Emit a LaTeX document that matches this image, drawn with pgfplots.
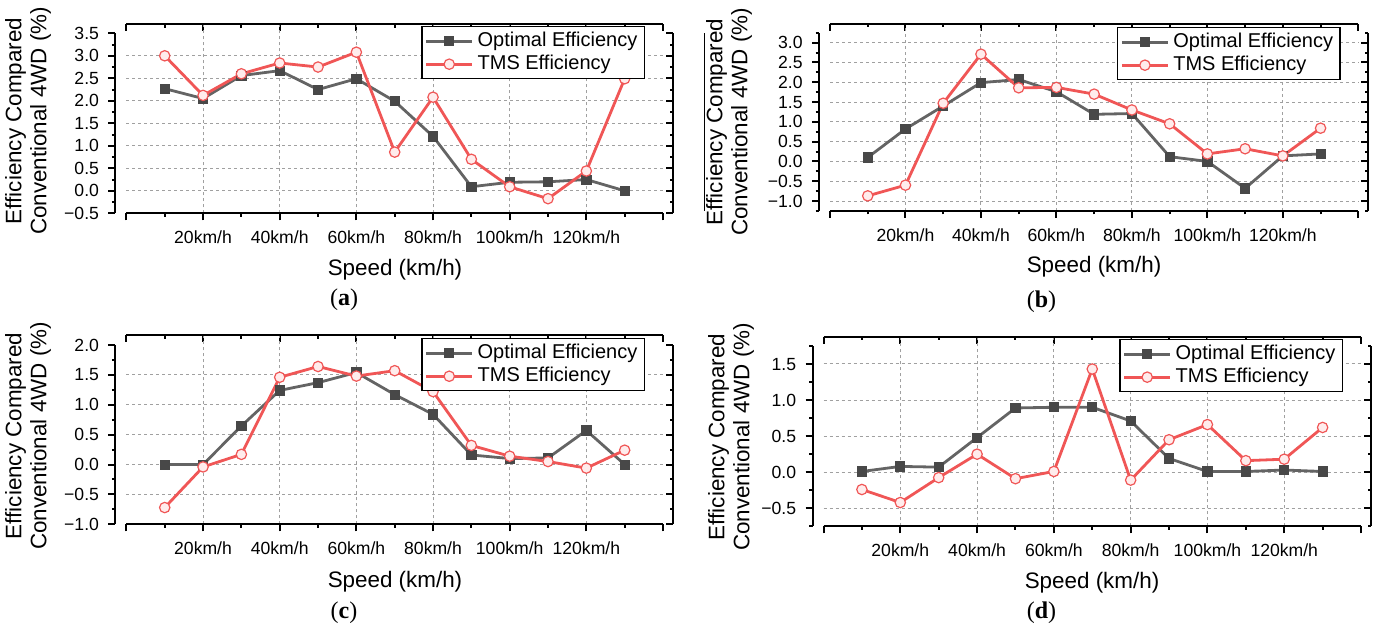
\documentclass[border=0pt]{standalone}
\usepackage{fontspec}
\setmainfont{Liberation Sans}
\newfontfamily\capfont{Liberation Serif}
\usepackage{pgfplots}
\pgfplotsset{compat=1.18}
\definecolor{optgray}{RGB}{100,100,100}
\definecolor{optmark}{RGB}{72,72,72}
\definecolor{tmsred}{RGB}{240,86,86}
\definecolor{tmsfill}{RGB}{255,236,236}
\definecolor{gridgray}{RGB}{160,160,160}
\pgfplotsset{
  common/.style={scale only axis, clip=false, anchor=south west,
    major tick length=3.5pt, minor tick length=1.75pt,
    tick style={black, line width=1pt},
    axis line style={black, line width=1pt}},
  Aax/.style={common, xmin=0, xmax=140, separate axis lines,
    y axis line style={draw=none},
    major tick length=0pt, minor tick length=0pt,
    xtick={20,40,...,120}, xticklabels={}, yticklabels={},
    xmajorgrids, ymajorgrids,
    major grid style={gridgray, line width=0.5pt, dash pattern=on 1.5pt off 1.5pt},
    legend style={anchor=north east, fill=white, draw=black, line width=0.7pt,
      font=\fontsize{10}{12}\selectfont, inner xsep=1.5pt, inner ysep=1.5pt,
      row sep=0pt, nodes={inner xsep=2pt, inner ysep=0.85pt, text height=7.6pt, text depth=2.2pt}},
    legend cell align=left,
    legend image code/.code={\draw[mark repeat=2,mark phase=2] plot coordinates {(0pt,0pt) (11.5pt,0pt) (23pt,0pt)};}},
  Bax/.style={common, axis x line*=bottom, axis y line*=left,
    x axis line style={draw=none}, tick align=outside,
    xtick={0,20,...,140}, minor xtick={10,30,...,130},
    xticklabels={{},20km/h,40km/h,60km/h,80km/h,100km/h,120km/h,{}},
    ticklabel style={font=\fontsize{8.8}{10}\selectfont},
    xticklabel style={yshift=-1.7pt}, yticklabel style={xshift=-1.2pt}},
  Cax/.style={common, axis y line*=right, axis x line*=bottom,
    x axis line style={draw=none}, xtick=\empty, yticklabels={}, tick align=inside},
  Dax/.style={common, xmin=0, xmax=140, axis x line*=top, axis y line*=left,
    x axis line style={draw=none}, y axis line style={draw=none}, ytick=\empty,
    xtick={0,20,...,140}, minor xtick={10,30,...,130}, xticklabels={}, tick align=inside},
  opt/.style={color=optgray, line width=1.4pt, mark=square*, mark size=2.3pt,
    mark options={fill=optmark, draw=optmark, line width=0.4pt, solid}},
  tms/.style={color=tmsred, line width=1.4pt, mark=*, mark size=2.6pt,
    mark options={fill=tmsfill, draw=tmsred, line width=0.6pt, solid}},
}
\tikzset{ylab/.style={rotate=90, align=center, inner sep=0pt, font=\fontsize{11.2}{12.5}\selectfont},
  xlab/.style={inner sep=0pt, font=\fontsize{11.2}{13}\selectfont},
  sublab/.style={inner sep=0pt, font=\capfont\fontsize{12}{14}\selectfont}}
\begin{document}
\begin{tikzpicture}
\path[use as bounding box] (0,0) rectangle (690pt,316.5pt);
% ---------------- (a)
\begin{axis}[Dax, at={(63.2pt,209.85pt)}, width=268.3pt, height=94.5pt, ymin=-0.5, ymax=3.7]\end{axis}
\begin{axis}[Aax, at={(63.2pt,209.85pt)}, width=268.3pt, height=94.5pt, ymin=-0.5, ymax=3.7,
  ytick={0,0.5,...,3}, legend style={at={(0.9665,0.991)}}]
\addplot[opt] coordinates {(10,2.27)(20,2.05)(30,2.56)(40,2.67)(50,2.25)(60,2.49)(70,1.99)(80,1.21)(90,0.09)(100,0.19)(110,0.20)(120,0.25)(130,0.0)};
\addlegendentry{Optimal Efficiency}
\addplot[tms] coordinates {(10,3.0)(20,2.12)(30,2.6)(40,2.84)(50,2.75)(60,3.08)(70,0.86)(80,2.08)(90,0.70)(100,0.09)(110,-0.175)(120,0.44)(130,2.49)};
\addlegendentry{TMS Efficiency}
\end{axis}
\begin{axis}[Bax, at={(57.7pt,209.85pt)}, width=278.8pt, height=90pt, xmin=-2.87, xmax=142.6, ymin=-0.5, ymax=3.5,
  ytick={-0.5,0,...,3.5}, yticklabels={−0.5,0.0,0.5,1.0,1.5,2.0,2.5,3.0,3.5}, minor ytick={-0.25,0.25,...,3.25}]\end{axis}
\begin{axis}[Cax, at={(57.7pt,209.85pt)}, width=278.8pt, height=90pt, xmin=-2.87, xmax=142.6, ymin=-0.5, ymax=3.5,
  ytick={-0.5,0,...,3.5}, minor ytick={-0.25,0.25,...,3.25}]\end{axis}
% ---------------- (b)
\begin{axis}[Dax, at={(415pt,211.05pt)}, width=264.15pt, height=93.45pt, ymin=-1.25, ymax=3.472]\end{axis}
\begin{axis}[Aax, at={(415pt,211.05pt)}, width=264.15pt, height=93.45pt, ymin=-1.25, ymax=3.472,
  ytick={-1,-0.5,...,3}, legend style={at={(0.9667,0.984)}}]
\addplot[opt] coordinates {(10,0.10)(20,0.82)(30,1.40)(40,1.99)(50,2.07)(60,1.76)(70,1.19)(80,1.21)(90,0.12)(100,0.0)(110,-0.68)(120,0.14)(130,0.19)};
\addlegendentry{Optimal Efficiency}
\addplot[tms] coordinates {(10,-0.87)(20,-0.60)(30,1.47)(40,2.71)(50,1.86)(60,1.87)(70,1.70)(80,1.30)(90,0.95)(100,0.19)(110,0.32)(120,0.14)(130,0.84)};
\addlegendentry{TMS Efficiency}
\end{axis}
\begin{axis}[Bax, at={(409.5pt,211.05pt)}, width=274.5pt, height=89.05pt, xmin=-2.91, xmax=142.57, ymin=-1.25, ymax=3.25,
  ytick={-1,-0.5,...,3}, yticklabels={−1.0,−0.5,0.0,0.5,1.0,1.5,2.0,2.5,3.0}, minor ytick={-1.25,-0.75,...,3.25}]\end{axis}
\begin{axis}[Cax, at={(409.5pt,211.05pt)}, width=274.5pt, height=89.05pt, xmin=-2.91, xmax=142.57, ymin=-1.25, ymax=3.25,
  ytick={-1,-0.5,...,3}, minor ytick={-1.25,-0.75,...,3.25}]\end{axis}
% ---------------- (c)
\begin{axis}[Dax, at={(63.2pt,54.35pt)}, width=268.3pt, height=94.65pt, ymin=-1, ymax=2.167]\end{axis}
\begin{axis}[Aax, at={(63.2pt,54.35pt)}, width=268.3pt, height=94.65pt, ymin=-1, ymax=2.167,
  ytick={-0.5,0,...,1.5}, legend style={at={(0.9665,0.984)}}]
\addplot[opt] coordinates {(10,0.0)(20,0.0)(30,0.645)(40,1.24)(50,1.37)(60,1.54)(70,1.17)(80,0.84)(90,0.16)(100,0.10)(110,0.11)(120,0.57)(130,0.0)};
\addlegendentry{Optimal Efficiency}
\addplot[tms] coordinates {(10,-0.72)(20,-0.04)(30,0.17)(40,1.46)(50,1.64)(60,1.48)(70,1.57)(80,1.22)(90,0.32)(100,0.14)(110,0.05)(120,-0.06)(130,0.24)};
\addlegendentry{TMS Efficiency}
\end{axis}
\begin{axis}[Bax, at={(57.7pt,54.35pt)}, width=278.8pt, height=89.65pt, xmin=-2.87, xmax=142.6, ymin=-1, ymax=2,
  ytick={-1,-0.5,...,2}, yticklabels={−1.0,−0.5,0.0,0.5,1.0,1.5,2.0}, minor ytick={-0.75,-0.25,...,1.75}]\end{axis}
\begin{axis}[Cax, at={(57.7pt,54.35pt)}, width=278.8pt, height=89.65pt, xmin=-2.87, xmax=142.6, ymin=-1, ymax=2,
  ytick={-1,-0.5,...,2}, minor ytick={-0.75,-0.25,...,1.75}]\end{axis}
% ---------------- (d)
\begin{axis}[Dax, at={(411.75pt,53.35pt)}, width=268.75pt, height=94.8pt, ymin=-0.75, ymax=1.878]\end{axis}
\begin{axis}[Aax, at={(411.75pt,53.35pt)}, width=268.75pt, height=94.8pt, ymin=-0.75, ymax=1.878,
  ytick={-0.5,0,...,1.5}, legend style={at={(0.9665,0.988)}}]
\addplot[opt] coordinates {(10,0.01)(20,0.08)(30,0.07)(40,0.48)(50,0.89)(60,0.90)(70,0.90)(80,0.71)(90,0.19)(100,0.01)(110,0.01)(120,0.03)(130,0.01)};
\addlegendentry{Optimal Efficiency}
\addplot[tms] coordinates {(10,-0.24)(20,-0.42)(30,-0.075)(40,0.25)(50,-0.09)(60,0.01)(70,1.43)(80,-0.11)(90,0.45)(100,0.66)(110,0.16)(120,0.18)(130,0.62)};
\addlegendentry{TMS Efficiency}
\end{axis}
\begin{axis}[Bax, at={(406.25pt,53.35pt)}, width=279.25pt, height=90.15pt, xmin=-2.87, xmax=142.6, ymin=-0.75, ymax=1.75,
  ytick={-0.5,0,...,1.5}, yticklabels={−0.5,0.0,0.5,1.0,1.5}, minor ytick={-0.75,-0.25,...,1.75}]\end{axis}
\begin{axis}[Cax, at={(406.25pt,53.35pt)}, width=279.25pt, height=90.15pt, xmin=-2.87, xmax=142.6, ymin=-0.75, ymax=1.75,
  ytick={-0.5,0,...,1.5}, minor ytick={-0.75,-0.25,...,1.75}]\end{axis}
% ---------------- labels
\node[ylab] at (14pt,256pt) {Efficiency Compared\\Conventional 4WD (\%)};
\node[ylab] at (364.5pt,255.5pt) {Efficiency Compared\\Conventional 4WD (\%)};
\node[ylab] at (14pt,98.5pt) {Efficiency Compared\\Conventional 4WD (\%)};
\node[ylab] at (365.5pt,98pt) {Efficiency Compared\\Conventional 4WD (\%)};
\draw[line width=0.5pt] (352pt,211.2pt) -- (352pt,300.2pt);
\node[xlab] at (197.5pt,181.5pt) {Speed (km/h)};
\node[xlab] at (547pt,183pt) {Speed (km/h)};
\node[xlab] at (197.5pt,25.5pt) {Speed (km/h)};
\node[xlab] at (546pt,25pt) {Speed (km/h)};
\node[sublab] at (172pt,166.5pt) {(\textbf{a})};
\node[sublab] at (520.75pt,165.75pt) {(\textbf{b})};
\node[sublab] at (172pt,10pt) {(\textbf{c})};
\node[sublab] at (520.75pt,10pt) {(\textbf{d})};
\end{tikzpicture}
\end{document}
